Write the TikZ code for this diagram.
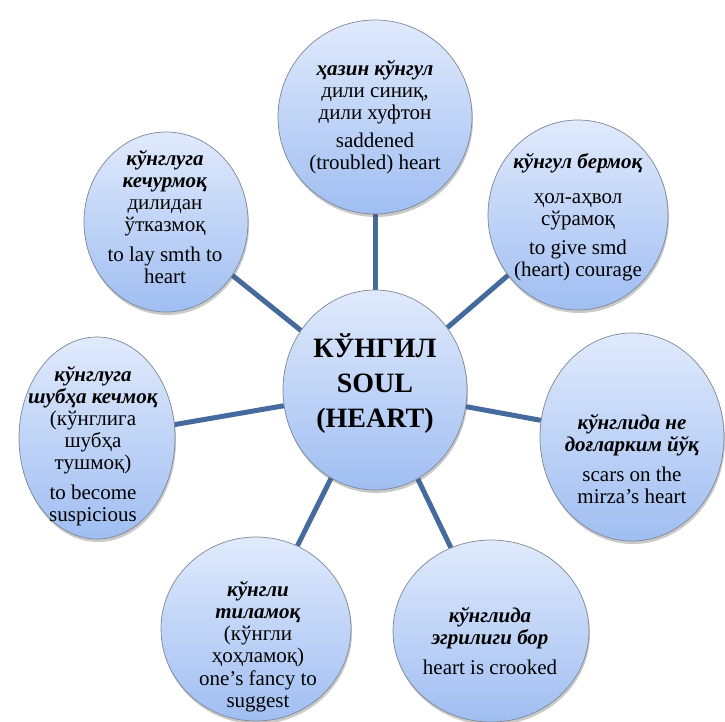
\documentclass[tikz,border=0pt]{standalone}
\usepackage{fontspec}
\setmainfont{Liberation Serif}
\newfontfamily\tmsfont{Liberation Serif}
\usetikzlibrary{shapes.geometric,shadows,backgrounds}
\definecolor{bubtop}{RGB}{224,234,252}
\definecolor{bubbot}{RGB}{160,190,242}
\definecolor{bubline}{RGB}{125,135,150}
\definecolor{spokecol}{RGB}{68,106,158}
\tikzset{
  bubble/.style={ellipse, draw=bubline, line width=0.7pt, top color=bubtop, bottom color=bubbot,
    inner sep=0pt, drop shadow={shadow xshift=1pt, shadow yshift=-3pt, opacity=0.3, fill=black!70}},
  spoke/.style={draw=spokecol, line width=5pt},
  lbl/.style={align=center, font=\tmsfont\fontsize{21}{22}\selectfont, inner sep=0pt},
  hub/.style={align=center, font=\tmsfont\fontsize{28}{35}\selectfont\bfseries, inner sep=0pt},
}
\newcommand{\bi}[1]{\textbf{\textit{#1}}}
\begin{document}
\begin{tikzpicture}[x=1pt,y=-1pt]
\useasboundingbox (0,0) rectangle (725,722);
\clip (0,0) rectangle (725,722);
% bubbles
\node[bubble, minimum width=184pt, minimum height=200pt] (c)  at (375,390) {};
\node[bubble, minimum width=194pt, minimum height=194pt] (n)  at (375,117) {};
\node[bubble, minimum width=164pt, minimum height=180pt] (nw) at (166,222) {};
\node[bubble, minimum width=180pt, minimum height=190pt] (ne) at (578,215) {};
\node[bubble, minimum width=156pt, minimum height=202pt] (w)  at (97,438) {};
\node[bubble, minimum width=184pt, minimum height=208pt] (e)  at (632,437) {};
\node[bubble, minimum width=190pt, minimum height=184pt] (sw) at (256,629) {};
\node[bubble, minimum width=196pt, minimum height=182pt] (se) at (491,631) {};
% spokes
\begin{scope}[on background layer]
\draw[spoke] (c) -- (n);
\draw[spoke] (c) -- (nw);
\draw[spoke] (c) -- (ne);
\draw[spoke] (c) -- (w);
\draw[spoke] (c) -- (e);
\draw[spoke] (c) -- (sw);
\draw[spoke] (c) -- (se);
\end{scope}
% texts
\node[hub] (tc) at (375,384) {КЎНГИЛ\\SOUL\\(HEART)};
\node[lbl] (tn) at (375,117) {\bi{ҳазин кўнгул}\\дили синиқ,\\дили хуфтон\\[6pt]saddened\\(troubled) heart};
\node[lbl] (tnw) at (165,217) {\bi{кўнглуга}\\\bi{кечурмоқ}\\дилидан\\ўтказмоқ\\[8pt]to lay smth to\\heart};
\node[lbl] (tne) at (578,217) {\bi{кўнгул бермоқ}\\[13pt]ҳол-аҳвол\\сўрамоқ\\[7pt]to give smd\\(heart) courage};
\node[lbl] (tw) at (93,446) {\bi{кўнглуга}\\\bi{шубҳа кечмоқ}\\(кўнглига\\шубҳа\\тушмоқ)\\[8pt]to become\\suspicious};
\node[lbl] (te) at (632,459) {\bi{кўнглида не}\\\bi{доғларким йўқ}\\[8pt]scars on the\\mirza’s heart};
\node[lbl] (tsw) at (258,647) {\bi{кўнгли}\\\bi{тиламоқ}\\(кўнгли\\ҳоҳламоқ)\\[1pt]one’s fancy to\\suggest};
\node[lbl] (tse) at (490,641) {\bi{кўнглида}\\\bi{эгрилиги бор}\\[8pt]heart is crooked};
\end{tikzpicture}
\end{document}
